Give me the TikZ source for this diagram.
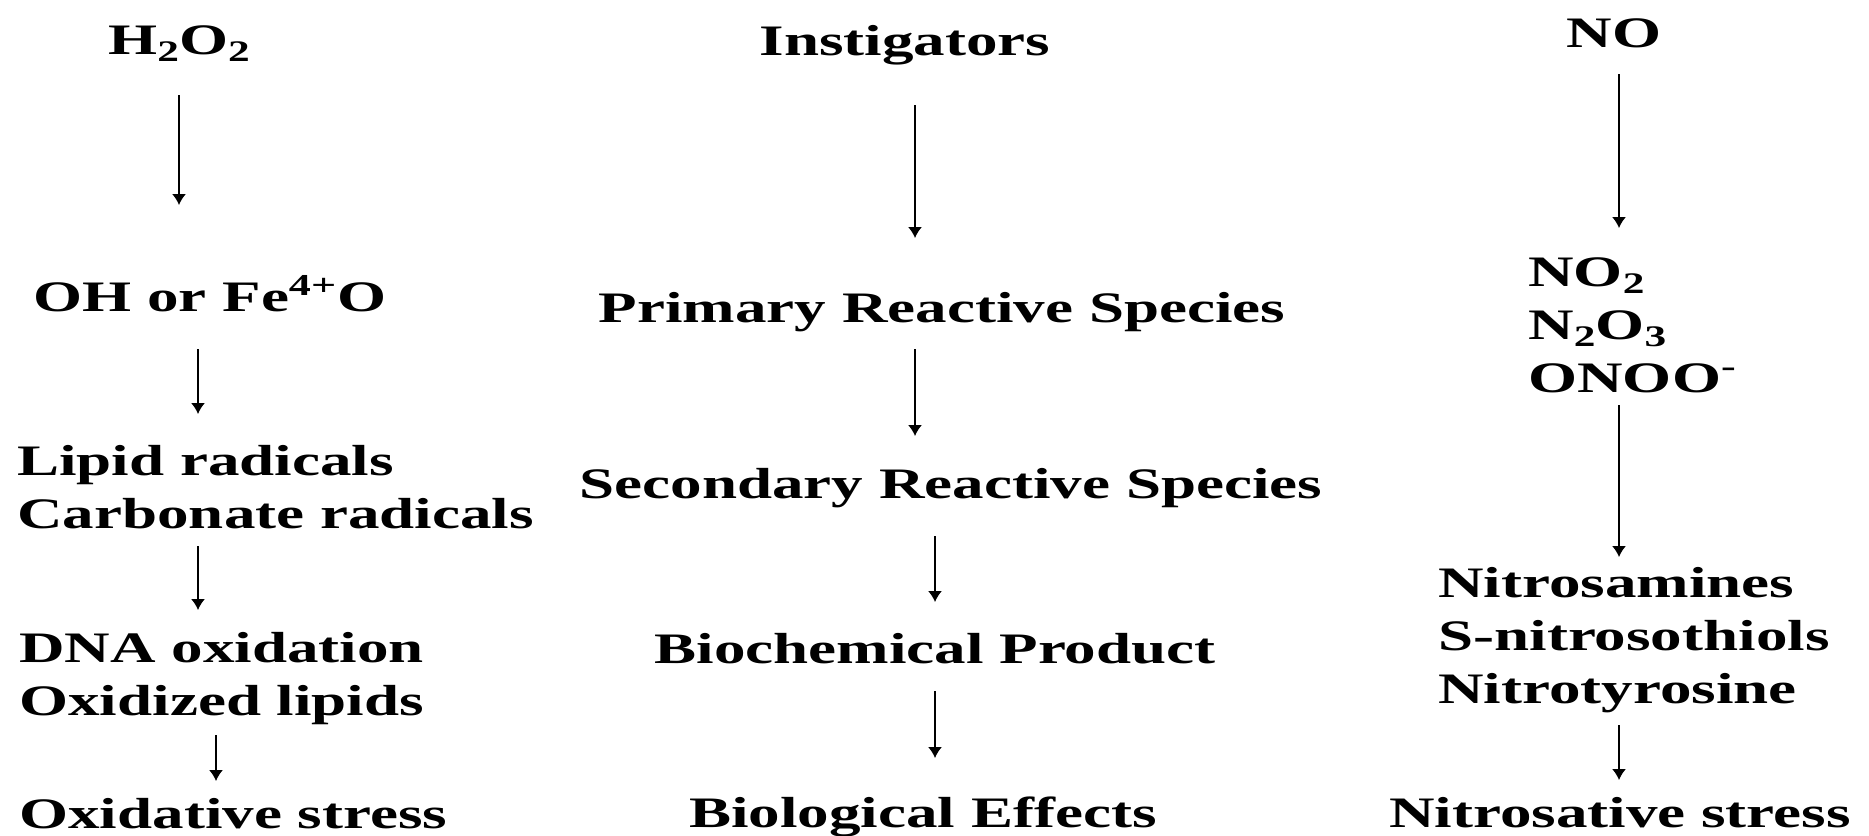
\documentclass[tikz,border=0pt]{standalone}
\usepackage{fontspec}
\setmainfont{Liberation Serif}
\newfontfamily\wideserif{Liberation Serif}[FakeStretch=1.45]
\usetikzlibrary{arrows.meta,calc}
\newcommand{\chemsub}[1]{\raisebox{-4.5pt}{\fontsize{17}{17}\selectfont #1}}

\begin{document}
\begin{tikzpicture}[
    x=0.02cm, y=-0.02cm,
    species/.style={inner sep=0pt, align=left, font=\fontsize{24.75}{30.16}\selectfont\wideserif\bfseries},
    arrow/.style={-{Latex[length=0.22cm, width=0.28cm]}, line width=0.9pt}
]
    \useasboundingbox (0,0) rectangle (1869,835);

    % Oxidative branch (left)
    \node[species, anchor=base] (h2o2) at (179,54) {H\chemsub{2}O\chemsub{2}};
    \node[species, anchor=base west] (ohfe) at (33,311) {OH or Fe\textsuperscript{4+}O};
    \node[species, anchor=base west] (lipid) at (17,528) {Lipid radicals\\Carbonate radicals};
    \node[species, anchor=base west] (dna) at (19,715) {DNA oxidation\\Oxidized lipids};
    \node[species, anchor=base west] (oxstress) at (19,828) {Oxidative stress};

    % General scheme (middle)
    \node[species, anchor=base] (inst) at (905,55) {Instigators};
    \node[species, anchor=base] (primary) at (942,322) {Primary Reactive Species};
    \node[species, anchor=base] (secondary) at (951,498) {Secondary Reactive Species};
    \node[species, anchor=base] (biochem) at (935,663) {Biochemical Product};
    \node[species, anchor=base] (bioeff) at (923,827) {Biological Effects};

    % Nitrosative branch (right)
    \node[species, anchor=base] (no) at (1614,47) {NO};
    \node[species, anchor=base west] (nox) at (1528,392) {NO\chemsub{2}\\N\chemsub{2}O\chemsub{3}\\ONOO\textsuperscript{-}};
    \node[species, anchor=base west] (nitroso) at (1438,703) {Nitrosamines\\S-nitrosothiols\\Nitrotyrosine};
    \node[species, anchor=base] (nistress) at (1620,827) {Nitrosative stress};

    % Draw connections
    \draw[arrow] ($(h2o2.base)+(0,41)$) -- ($(ohfe.base west)+(146,-106)$);
    \draw[arrow] ($(ohfe.base west)+(165,38)$) -- ($(lipid.base west)+(181,-114)$);
    \draw[arrow] ($(lipid.base west)+(181,18)$) -- ($(dna.base west)+(179,-105)$);
    \draw[arrow] ($(dna.base west)+(197,20)$) -- ($(oxstress.base west)+(197,-47)$);

    \draw[arrow] ($(inst.base)+(10,50)$) -- ($(primary.base)+(-27,-84)$);
    \draw[arrow] ($(primary.base)+(-27,27)$) -- ($(secondary.base)+(-36,-62)$);
    \draw[arrow] ($(secondary.base)+(-16,38)$) -- ($(biochem.base)+(0,-61)$);
    \draw[arrow] ($(biochem.base)+(0,28)$) -- ($(bioeff.base)+(12,-69)$);

    \draw[arrow] ($(no.base)+(5,27)$) -- ($(nox.base west)+(91,-164)$);
    \draw[arrow] ($(nox.base west)+(91,13)$) -- ($(nitroso.base west)+(181,-146)$);
    \draw[arrow] ($(nitroso.base west)+(181,22)$) -- ($(nistress.base)+(-1,-47)$);

\end{tikzpicture}
\end{document}
